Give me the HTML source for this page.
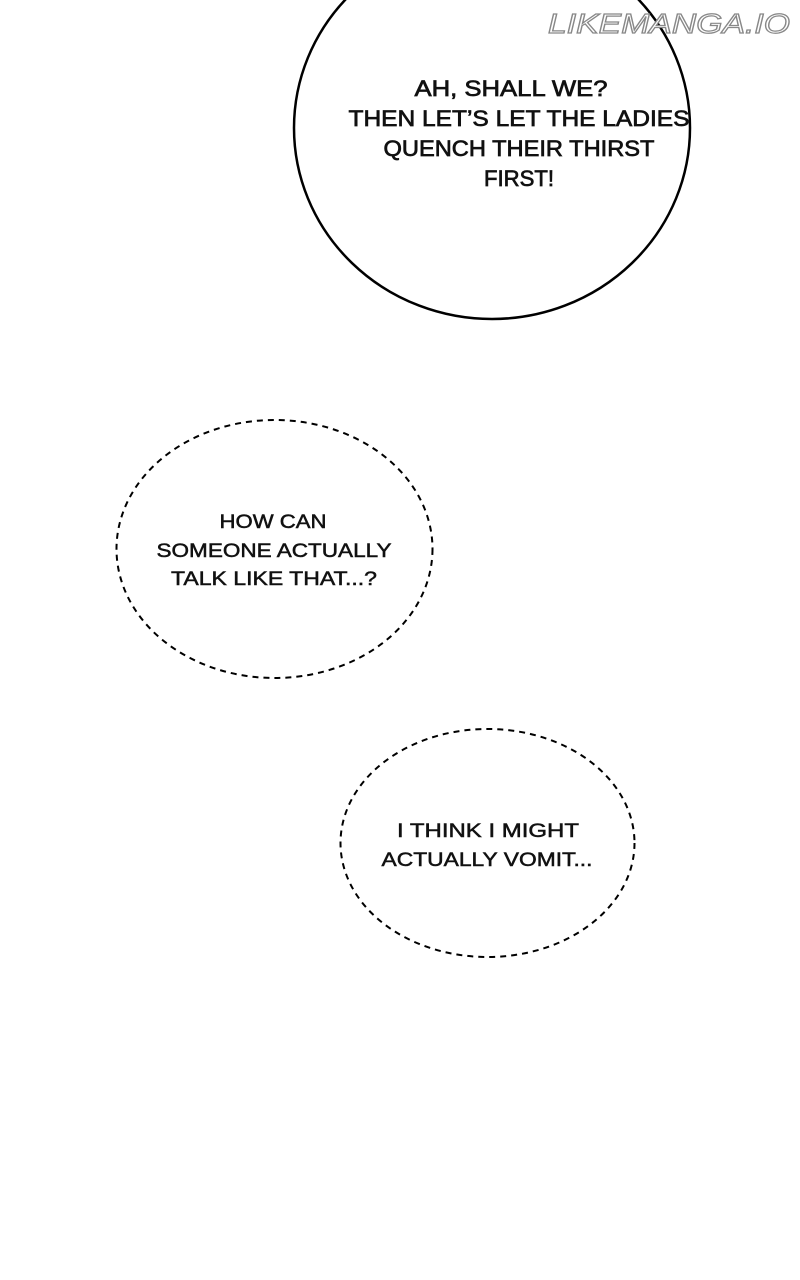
<!DOCTYPE html>
<html><head><meta charset="utf-8"><style>html,body{margin:0;padding:0;background:#fff;width:800px;height:1280px;overflow:hidden}</style></head>
<body>
<svg width="800" height="1280" viewBox="0 0 800 1280" xmlns="http://www.w3.org/2000/svg">
<rect width="800" height="1280" fill="#fff"/>
<ellipse cx="492" cy="128" rx="198" ry="191" fill="#fff" stroke="#000" stroke-width="2.5"/>
<ellipse cx="274.5" cy="549" rx="158" ry="129" fill="none" stroke="#000" stroke-width="2" stroke-dasharray="6,5"/>
<ellipse cx="487.5" cy="843" rx="147" ry="114" fill="none" stroke="#000" stroke-width="2" stroke-dasharray="6,5"/>
<g font-family="Liberation Sans, sans-serif" fill="#111" text-anchor="middle" stroke="#111" stroke-width="0.7">
<g font-size="22">
<text x="511" y="96" textLength="193" lengthAdjust="spacingAndGlyphs">AH, SHALL WE?</text>
<text x="519" y="126" textLength="341" lengthAdjust="spacingAndGlyphs">THEN LET’S LET THE LADIES</text>
<text x="519" y="156" textLength="271" lengthAdjust="spacingAndGlyphs">QUENCH THEIR THIRST</text>
<text x="519" y="186" textLength="70" lengthAdjust="spacingAndGlyphs">FIRST!</text>
</g>
<g font-size="19" stroke-width="0.5">
<text x="273" y="528" textLength="107" lengthAdjust="spacingAndGlyphs">HOW CAN</text>
<text x="274" y="557" textLength="235" lengthAdjust="spacingAndGlyphs">SOMEONE ACTUALLY</text>
<text x="274" y="585" textLength="206" lengthAdjust="spacingAndGlyphs">TALK LIKE THAT...?</text>
<text x="488" y="837" textLength="182" lengthAdjust="spacingAndGlyphs">I THINK I MIGHT</text>
<text x="487" y="866" textLength="211" lengthAdjust="spacingAndGlyphs">ACTUALLY VOMIT...</text>
</g>
</g>
<text x="669" y="33" font-family="Liberation Sans, sans-serif" text-anchor="middle" font-size="28" font-style="oblique" fill="#fff" stroke="#888" stroke-width="1.2" textLength="242" lengthAdjust="spacingAndGlyphs">LIKEMANGA.IO</text>
</svg>
</body></html>
